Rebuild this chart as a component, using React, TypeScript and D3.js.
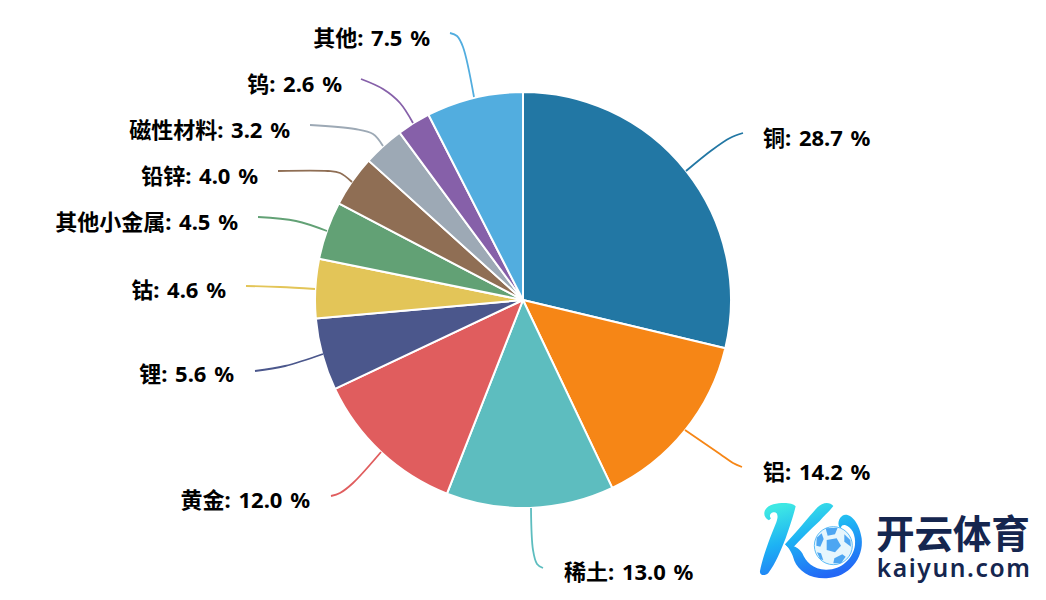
import React from "react";
import * as d3 from "d3";

const categories = ["铜", "铝", "稀土", "黄金", "锂", "钴", "其他小金属", "铅锌", "磁性材料", "钨", "其他"];
const shares = [28.7, 14.2, 13.0, 12.0, 5.6, 4.6, 4.5, 4.0, 3.2, 2.6, 7.5];
const colors = ["#2277a4", "#f68616", "#5dbdbf", "#e05d5e", "#4b578c", "#e3c558", "#62a175", "#8f6e54", "#9da9b5", "#8660a9", "#52addf"];

// layout, separate from the data
const WIDTH = 1046;
const HEIGHT = 600;
const CENTER = [523, 300];
const RADIUS = 208;
const labelPos: [number, number, string][] = [
  [763, 146, "start"], [763, 480, "start"], [564, 580, "start"], [310, 508, "end"], [234, 382, "end"],
  [226, 298, "end"], [238, 230, "end"], [258, 184, "end"], [290, 138, "end"], [342, 92, "end"], [430, 46, "end"],
];
const leaderPts: [number, number][][] = [
  [[686, 171], [712, 150], [730, 138], [743, 133]],
  [[685, 430], [720, 454], [733, 463], [742, 467]],
  [[531, 508], [533, 550], [537, 564], [543, 568]],
  [[381, 452], [353, 483], [340, 493], [331, 496]],
  [[323, 354], [285, 366], [255, 371]],
  [[315, 289], [280, 287], [246, 286]],
  [[327, 231], [296, 221], [258, 217]],
  [[352, 182], [340, 173], [328, 171], [278, 171]],
  [[383, 146], [373, 134], [355, 129], [310, 125]],
  [[413, 123], [400, 103], [383, 89], [361, 79]],
  [[474, 97], [463, 47], [457, 36], [450, 33]],
];

const pieGen = d3.pie<number>().sort(null).value((d) => d);
const arcGen = d3.arc<d3.PieArcDatum<number>>().innerRadius(0).outerRadius(RADIUS);
const leader = d3.line().curve(d3.curveCatmullRom.alpha(0.5));

const FONT = "'Noto Sans', 'Noto Sans CJK SC', sans-serif";

const ballDark = [
  "M215,135 L245,130 L258,152 L240,172 L215,165 Z",
  "M212,100 L248,98 L240,118 L218,122 Z",
  "M268,118 L286,135 L288,155 L268,140 Z",
  "M185,128 L200,115 L206,132 L196,155 L184,152 Z",
  "M238,190 L262,178 L272,185 L258,205 L235,205 Z",
  "M186,172 L198,175 L205,196 L195,192 Z",
];

function Logo() {
  return (
    <g>
      <defs>
        <linearGradient id="kg" gradientUnits="userSpaceOnUse" x1="120" y1="20" x2="190" y2="250">
          <stop offset="0" stopColor="#3ee8e4" />
          <stop offset="0.45" stopColor="#1db2f4" />
          <stop offset="1" stopColor="#2368f6" />
        </linearGradient>
      </defs>
      <g transform="translate(755,495) scale(0.3333)">
        <path fill="url(#kg)" d="M42,76 C18,62 26,36 55,28 C80,22 112,22 122,34 C116,60 104,95 92,130 C78,165 60,210 40,234 C30,244 13,242 15,228 C22,190 44,130 64,82 C72,60 66,50 55,52 C44,55 42,64 48,70 Z" />
        <path fill="url(#kg)" d="M235,33 C225,20 203,20 186,38 C160,68 125,110 90,148 L108,164 C138,132 168,102 194,78 C208,62 224,48 235,33 Z" />
        <path fill="url(#kg)" d="M90,148 C112,150 132,158 142,175 C152,200 175,225 215,224 C260,224 295,190 300,150 C303,120 290,95 270,90 C258,88 255,100 262,104 C248,100 245,75 262,62 C285,50 314,85 320,130 C327,190 282,247 215,250 C165,252 130,227 118,197 C112,177 105,162 90,148 Z" />
        <circle cx="235" cy="152" r="57" fill="#e6f6fd" stroke="#5cbcf6" strokeWidth="3" />
        {ballDark.map((d, i) => (
          <path key={i} d={d} fill="#4da6f2" />
        ))}
      </g>
      <g transform="translate(750,490) scale(0.3333)">
        <text x="378" y="175" fontFamily="'Noto Sans CJK SC', sans-serif" fontWeight="700" fontSize="116" fill="#15264f" textLength="462">开云体育</text>
        <text x="380" y="262" fontFamily="'Noto Sans', sans-serif" fontWeight="600" fontSize="74" fill="#15264f" textLength="460">kaiyun.com</text>
      </g>
    </g>
  );
}

export default function App() {
  const slices = pieGen(shares);
  return (
    <svg width={WIDTH} height={HEIGHT} style={{ position: "absolute", left: 0, top: 0, background: "#fff" }}>
      <g transform={`translate(${CENTER[0]},${CENTER[1]})`}>
        {slices.map((s, i) => (
          <path key={i} d={arcGen(s) ?? ""} fill={colors[i]} stroke="#fff" strokeWidth={2} strokeLinejoin="round" />
        ))}
      </g>
      {leaderPts.map((p, i) => (
        <path key={i} d={leader(p) ?? ""} fill="none" stroke={colors[i]} strokeWidth={1.8} />
      ))}
      {categories.map((c, i) => (
        <text key={c} x={labelPos[i][0]} y={labelPos[i][1]} textAnchor={labelPos[i][2] as any} fontFamily={FONT} fontWeight="700" fontSize={22} wordSpacing={2} fill="#000">
          {`${c}: ${shares[i].toFixed(1)} %`}
        </text>
      ))}
      <Logo />
    </svg>
  );
}
